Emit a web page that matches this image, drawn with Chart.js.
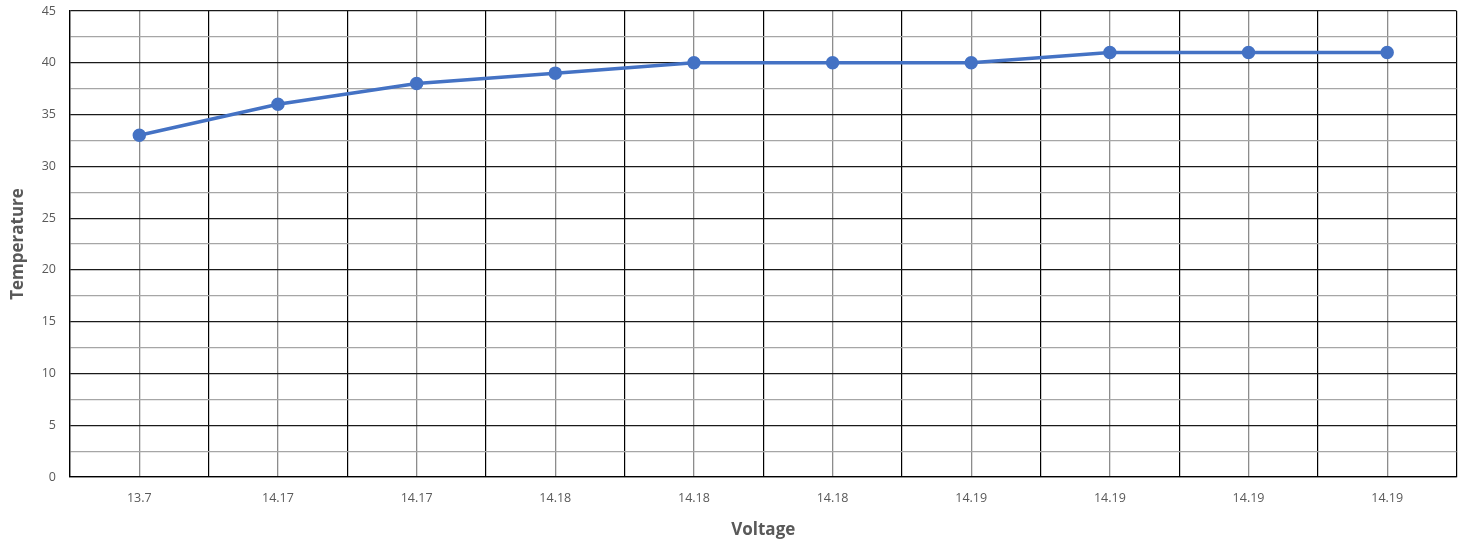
<!DOCTYPE html>
<html>
<head>
<meta charset="utf-8">
<script src="https://cdn.jsdelivr.net/npm/chart.js@4/dist/chart.umd.min.js"></script>
<style>
  html, body { margin: 0; padding: 0; background: #fff; }
  #wrap { width: 1465px; height: 544px; }
</style>
</head>
<body>
<div id="wrap"><canvas id="chart"></canvas></div>
<script>
// Datos
const voltageLabels = ['13.7', '14.17', '14.17', '14.18', '14.18', '14.18', '14.19', '14.19', '14.19', '14.19'];
const temperatureValues = [33, 36, 38, 39, 40, 40, 40, 41, 41, 41];
const yMin = 0;
const yMax = 45;

const textColor = '#595959';
const tickFont = { family: "'Open Sans', sans-serif", size: 12.5 };

const ctx = document.getElementById('chart').getContext('2d');
new Chart(ctx, {
    type: 'line',
    data: {
        labels: voltageLabels,
        datasets: [{
            label: 'Temperature',
            data: temperatureValues,
            borderColor: '#4472C4',
            backgroundColor: '#4472C4',
            borderWidth: 3.5,
            pointRadius: 5,
            pointHoverRadius: 5,
            tension: 0,
            xAxisID: 'x',
            yAxisID: 'y'
        }]
    },
    options: {
        responsive: true,
        maintainAspectRatio: false,
        animation: false,
        layout: { padding: { left: 0, right: 6, top: 0, bottom: 0 } },
        plugins: {
            legend: { display: false },
            tooltip: { enabled: false }
        },
        scales: {
            // líneas verticales en el centro de cada categoría (gris)
            x2: {
                type: 'category',
                labels: voltageLabels,
                position: 'bottom',
                offset: true,
                grid: { offset: false, color: '#8c8c8c', lineWidth: 1.3, drawTicks: false },
                border: { display: false },
                ticks: { display: false },
                afterFit: (scale) => { scale.height = 0; }
            },
            x: {
                type: 'category',
                position: 'bottom',
                offset: true,
                grid: { offset: true, color: '#000', lineWidth: 1.2, drawTicks: false },
                border: { color: '#000', width: 1.3 },
                ticks: { color: textColor, font: tickFont, padding: 14 },
                title: {
                    display: true,
                    text: 'Voltage',
                    color: textColor,
                    font: { family: "'Open Sans', sans-serif", size: 17, weight: 'bold' },
                    padding: { top: 4 }
                },
                afterFit: (scale) => { scale.height = 67; }
            },
            y: {
                min: yMin,
                max: yMax,
                ticks: {
                    stepSize: 2.5,
                    maxTicksLimit: 30,
                    autoSkip: false,
                    color: textColor,
                    font: tickFont,
                    padding: 14,
                    callback: (v) => (v % 5 === 0 ? v : '')
                },
                grid: {
                    drawTicks: false,
                    color: (c) => (c.tick && c.tick.value % 5 === 0 ? '#1a1a1a' : '#a6a6a6'),
                    lineWidth: 1.2
                },
                border: { color: '#000', width: 1.3 },
                title: {
                    display: true,
                    text: 'Temperature',
                    color: textColor,
                    font: { family: "'Open Sans', sans-serif", size: 17, weight: 'bold' },
                    padding: { top: 8, bottom: 4 }
                },
                afterFit: (scale) => {
                    scale.width = 70;
                    scale.paddingTop = 11;
                    scale.paddingBottom = 0;
                }
            }
        }
    }
});
</script>
</body>
</html>
